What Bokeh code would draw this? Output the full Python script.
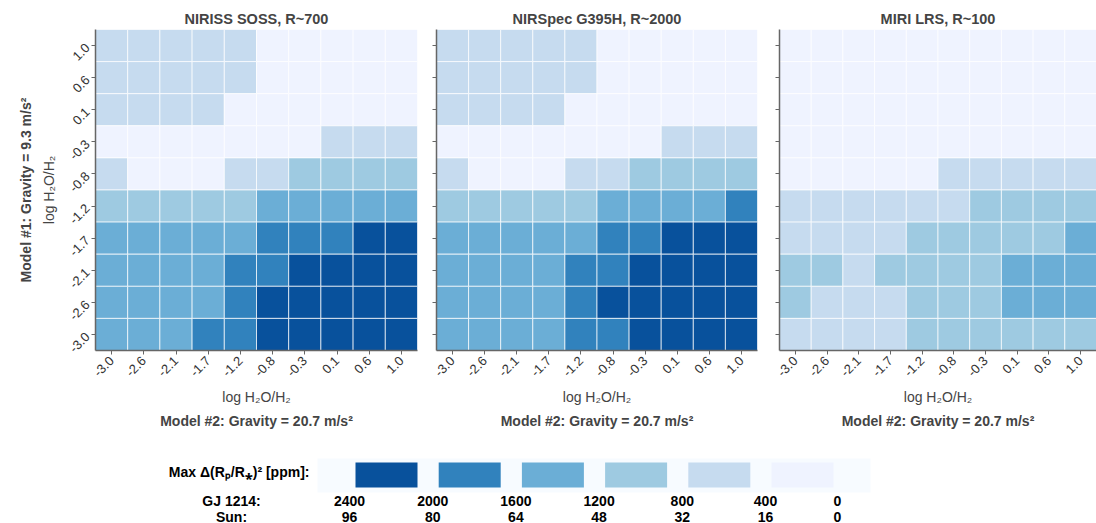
import math
from bokeh.plotting import figure
from bokeh.layouts import column, row
from bokeh.models import (FactorRange, Title, LinearColorMapper, Range1d, ColumnDataSource,
                          CustomLabelingPolicy)
from bokeh.core.properties import value
from bokeh.embed import file_html
from bokeh.resources import INLINE

# ---------------- data ----------------
ticks = ["-3.0", "-2.6", "-2.1", "-1.7", "-1.2", "-0.8", "-0.3", "0.1", "0.6", "1.0"]
# rows listed from top (log H2O/H2 = 1.0) to bottom (-3.0); values in ppm (GJ 1214)
niriss = [
    [600, 600, 600, 600, 600, 200, 200, 200, 200, 200],
    [600, 600, 600, 600, 600, 200, 200, 200, 200, 200],
    [600, 600, 600, 600, 200, 200, 200, 200, 200, 200],
    [200, 200, 200, 200, 200, 200, 200, 600, 600, 600],
    [600, 200, 200, 200, 600, 600, 1000, 1000, 1000, 1000],
    [1000, 1000, 1000, 1000, 1000, 1400, 1400, 1400, 1400, 1400],
    [1400, 1400, 1400, 1400, 1400, 1800, 1800, 1800, 2200, 2200],
    [1400, 1400, 1400, 1400, 1800, 1800, 2200, 2200, 2200, 2200],
    [1400, 1400, 1400, 1400, 1800, 2200, 2200, 2200, 2200, 2200],
    [1400, 1400, 1400, 1800, 1800, 2200, 2200, 2200, 2200, 2200],
]
nirspec = [
    [600, 600, 600, 600, 600, 200, 200, 200, 200, 200],
    [600, 600, 600, 600, 600, 200, 200, 200, 200, 200],
    [600, 600, 600, 600, 200, 200, 200, 200, 200, 200],
    [200, 200, 200, 200, 200, 200, 200, 600, 600, 600],
    [600, 200, 200, 200, 600, 600, 1000, 1000, 1000, 1000],
    [1000, 1000, 1000, 1000, 1000, 1400, 1400, 1400, 1400, 1800],
    [1400, 1400, 1400, 1400, 1400, 1800, 1800, 2200, 2200, 2200],
    [1400, 1400, 1400, 1400, 1800, 1800, 2200, 2200, 2200, 2200],
    [1400, 1400, 1400, 1400, 1800, 2200, 2200, 2200, 2200, 2200],
    [1400, 1400, 1400, 1400, 1800, 1800, 2200, 2200, 2200, 2200],
]
miri = [
    [200, 200, 200, 200, 200, 200, 200, 200, 200, 200],
    [200, 200, 200, 200, 200, 200, 200, 200, 200, 200],
    [200, 200, 200, 200, 200, 200, 200, 200, 200, 200],
    [200, 200, 200, 200, 200, 200, 200, 200, 200, 200],
    [200, 200, 200, 200, 200, 600, 600, 600, 600, 600],
    [600, 600, 600, 600, 600, 600, 1000, 1000, 1000, 1000],
    [600, 600, 600, 600, 1000, 1000, 1000, 1000, 1000, 1400],
    [1000, 1000, 600, 1000, 1000, 1000, 1000, 1400, 1400, 1400],
    [1000, 600, 600, 600, 1000, 1000, 1000, 1400, 1400, 1400],
    [600, 600, 600, 600, 1000, 1000, 1000, 1000, 1000, 1000],
]
titles = ["NIRISS SOSS, R~700", "NIRSpec G395H, R~2000", "MIRI LRS, R~100"]
palette = ["#eff3ff", "#c6dbef", "#9ecae1", "#6baed6", "#3182bd", "#08519c"]
gj_labels = ["2400", "2000", "1600", "1200", "800", "400", "0"]
sun_labels = ["96", "80", "64", "48", "32", "16", "0"]

FONT = "Liberation Sans"
mapper = LinearColorMapper(palette=palette, low=0, high=2400)
TOP_H = 434
LEG_H = 89


def heat(title, grid, width, bl, br, first):
    p = figure(x_range=FactorRange(factors=ticks), y_range=FactorRange(factors=ticks),
               width=width, height=TOP_H, output_backend="svg", toolbar_location=None,
               min_border_left=bl, min_border_right=br, min_border_top=29,
               min_border_bottom=TOP_H - 350)
    xs, ys, vs = [], [], []
    n = len(ticks)
    for r, rowv in enumerate(grid):
        for c, v in enumerate(rowv):
            xs.append(ticks[c])
            ys.append(ticks[n - 1 - r])
            vs.append(v)
    src = ColumnDataSource(dict(x=xs, y=ys, v=vs))
    p.rect(x="x", y="y", width=1, height=1, source=src,
           fill_color={"field": "v", "transform": mapper},
           line_color="white", line_width=1, line_alpha=0.7)
    p.title.text = title
    p.title.align = "center"
    p.title.text_font = FONT
    p.title.text_font_size = "14.5px"
    p.title.text_font_style = "bold"
    p.title.standoff = 6
    p.grid.visible = False
    p.outline_line_color = None
    for ax in (p.xaxis[0], p.yaxis[0]):
        ax.axis_line_color = "#666666"
        ax.axis_line_width = 1.5
        ax.major_tick_line_color = "#666666"
        ax.major_tick_out = 4
        ax.major_tick_in = 0
        ax.minor_tick_line_color = None
        ax.major_label_text_font = FONT
        ax.major_label_text_font_size = "13px"
        ax.major_label_text_color = "#333333"
        ax.major_label_orientation = math.pi / 4
        ax.major_label_standoff = 4
        ax.axis_label_text_font = FONT
        ax.axis_label_text_font_size = "14px"
        ax.axis_label_text_font_style = "normal"
        ax.axis_label_text_color = "#444444"
        ax.axis_label_standoff = 5
    p.xaxis.axis_label = "log H\u2082O/H\u2082"
    p.add_layout(Title(text="Model #2: Gravity = 20.7 m/s\u00b2", align="center", standoff=6,
                       text_font=FONT, text_font_size="14px", text_font_style="bold"), "below")
    if first:
        p.yaxis.axis_label = "log H\u2082O/H\u2082"
        p.add_layout(Title(text="Model #1: Gravity = 9.3 m/s\u00b2", align="center",
                           text_font=FONT, text_font_size="14px", text_font_style="bold"), "left")
    else:
        p.yaxis.major_label_text_font_size = "1px"
        p.yaxis.major_label_standoff = 0
        p.yaxis.major_label_policy = CustomLabelingPolicy(
            code="for (const i of Array.from(indices)) indices.unset(i); return indices")
    return p


p1 = heat(titles[0], niriss, 426, 95, 9, True)
p2 = heat(titles[1], nirspec, 340, 10, 9, False)
p3 = heat(titles[2], miri, 330, 13, 0, False)

# ---------------- legend strip ----------------
lg = figure(width=1096, height=LEG_H, x_range=Range1d(0, 1096), y_range=Range1d(LEG_H, 0),
            output_backend="svg", toolbar_location=None, x_axis_type=None, y_axis_type=None,
            min_border=0)
lg.grid.visible = False
lg.outline_line_color = None
lg.quad(left=[317], right=[870], top=[24], bottom=[58], fill_color="#f7fbff", line_color=None)
step = 83.2
lefts = [355 + step * i for i in range(len(palette))]
lg.quad(left=lefts, right=[l + 62 for l in lefts], top=[28] * len(lefts), bottom=[53] * len(lefts),
        fill_color=palette[::-1], line_color=None)
lx = [l - 6 for l in lefts] + [837]
lg.text(x=lx, y=[66] * len(lx), text=gj_labels, text_align="center", text_baseline="middle",
        text_font=value(FONT), text_font_size="14px", text_font_style="bold", text_color="black")
lg.text(x=lx, y=[82] * len(lx), text=sun_labels, text_align="center", text_baseline="middle",
        text_font=value(FONT), text_font_size="14px", text_font_style="bold", text_color="black")
lg.text(x=[309], y=[37], text=["Max \u0394(R\u209a/R\u204e)\u00b2 [ppm]:"], text_align="right",
        text_baseline="middle", text_font=value(FONT), text_font_size="14px",
        text_font_style="bold", text_color="black")
lg.text(x=[231, 231], y=[66, 82], text=["GJ 1214:", "Sun:"], text_align="center",
        text_baseline="middle", text_font=value(FONT), text_font_size="14px",
        text_font_style="bold", text_color="black")

layout = column(row(p1, p2, p3, spacing=0), lg, spacing=0)
open("out.html", "w").write(file_html(layout, INLINE))
